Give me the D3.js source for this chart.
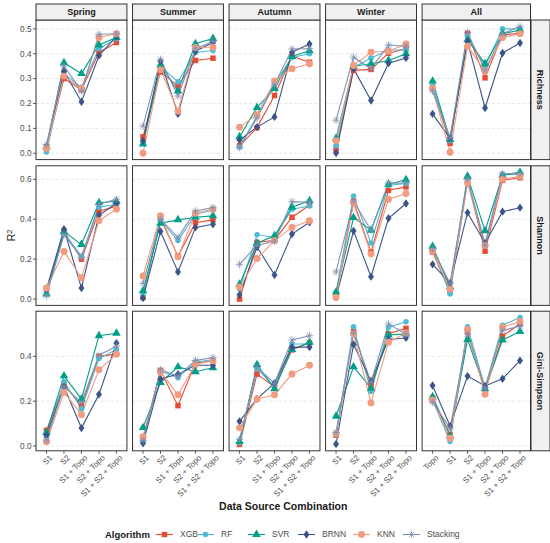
<!DOCTYPE html>
<html>
<head>
<meta charset="utf-8">
<script src="https://cdn.jsdelivr.net/npm/d3@7"></script>
<style>
  body { margin: 0; background: #fff; }
  svg { font-family: "Liberation Sans", Arial, sans-serif; }
</style>
</head>
<body>
<div id="chart"></div>
<script>
// facets
const seasons = ['Spring', 'Summer', 'Autumn', 'Winter', 'All'];
const indices = ['Richness', 'Shannon', 'Gini-Simpson'];
const algorithms = ['XGB', 'RF', 'SVR', 'BRNN', 'KNN', 'Stacking'];
const sources = ['S1', 'S2', 'S1 + Topo', 'S2 + Topo', 'S1 + S2 + Topo'];
const sourcesAll = ['Topo', 'S1', 'S2', 'S1 + Topo', 'S2 + Topo', 'S1 + S2 + Topo'];

const richTicks = [0, 0.1, 0.2, 0.3, 0.4, 0.5];
const shanTicks = [0, 0.2, 0.4, 0.6];
const giniTicks = [0, 0.2, 0.4];

// rows = algorithms in order XGB, RF, SVR, BRNN, KNN, Stacking
const richSpring = [
  [0.025, 0.300, 0.255, 0.405, 0.445],
  [0.005, 0.320, 0.265, 0.420, 0.460],
  [0.025, 0.364, 0.320, 0.435, 0.465],
  [0.025, 0.330, 0.207, 0.392, 0.470],
  [0.020, 0.310, 0.260, 0.465, 0.480],
  [0.035, 0.350, 0.250, 0.478, 0.480]
];
const richSummer = [
  [0.066, 0.327, 0.271, 0.373, 0.382],
  [0.040, 0.350, 0.287, 0.405, 0.413],
  [0.037, 0.355, 0.250, 0.440, 0.461],
  [0.050, 0.370, 0.158, 0.410, 0.445],
  [0.000, 0.336, 0.169, 0.425, 0.426],
  [0.109, 0.377, 0.230, 0.420, 0.450]
];
const richAutumn = [
  [0.030, 0.103, 0.232, 0.390, 0.366],
  [0.025, 0.150, 0.280, 0.385, 0.400],
  [0.066, 0.184, 0.260, 0.389, 0.412],
  [0.053, 0.105, 0.146, 0.406, 0.439],
  [0.105, 0.155, 0.290, 0.340, 0.360],
  [0.024, 0.142, 0.275, 0.419, 0.420]
];
const richWinter = [
  [0.014, 0.333, 0.337, 0.402, 0.420],
  [0.030, 0.345, 0.383, 0.415, 0.415],
  [0.060, 0.350, 0.360, 0.373, 0.400],
  [0.001, 0.340, 0.212, 0.362, 0.383],
  [0.050, 0.353, 0.406, 0.410, 0.439],
  [0.133, 0.386, 0.340, 0.435, 0.430]
];
const richAll = [
  [0.267, 0.040, 0.482, 0.303, 0.476, 0.482],
  [0.270, 0.050, 0.470, 0.350, 0.500, 0.500],
  [0.290, 0.055, 0.456, 0.360, 0.480, 0.495],
  [0.158, 0.060, 0.450, 0.182, 0.403, 0.443],
  [0.260, 0.004, 0.430, 0.330, 0.465, 0.480],
  [0.250, 0.063, 0.485, 0.335, 0.480, 0.510]
];

const shanSpring = [
  [0.045, 0.340, 0.200, 0.440, 0.465],
  [0.030, 0.330, 0.215, 0.460, 0.475],
  [0.025, 0.339, 0.273, 0.483, 0.490],
  [0.050, 0.350, 0.055, 0.420, 0.480],
  [0.055, 0.238, 0.107, 0.392, 0.450],
  [0.017, 0.322, 0.210, 0.475, 0.500]
];
const shanSummer = [
  [0.008, 0.405, 0.215, 0.383, 0.397],
  [0.020, 0.395, 0.293, 0.425, 0.445],
  [0.041, 0.380, 0.397, 0.410, 0.417],
  [0.005, 0.339, 0.136, 0.359, 0.375],
  [0.116, 0.417, 0.212, 0.430, 0.450],
  [0.078, 0.400, 0.309, 0.441, 0.458]
];
const shanAutumn = [
  [0.000, 0.284, 0.295, 0.410, 0.470],
  [0.050, 0.322, 0.310, 0.450, 0.466],
  [0.074, 0.280, 0.317, 0.460, 0.493],
  [0.021, 0.261, 0.121, 0.326, 0.385],
  [0.061, 0.203, 0.293, 0.359, 0.392],
  [0.174, 0.270, 0.290, 0.488, 0.485]
];
const shanWinter = [
  [0.020, 0.490, 0.235, 0.545, 0.562],
  [0.033, 0.516, 0.281, 0.570, 0.579],
  [0.035, 0.408, 0.345, 0.575, 0.598],
  [0.010, 0.342, 0.112, 0.405, 0.479],
  [0.008, 0.480, 0.226, 0.500, 0.529],
  [0.136, 0.490, 0.345, 0.582, 0.580]
];
const shanAll = [
  [0.235, 0.036, 0.595, 0.240, 0.595, 0.608],
  [0.250, 0.025, 0.600, 0.280, 0.625, 0.625],
  [0.264, 0.060, 0.615, 0.342, 0.620, 0.636],
  [0.174, 0.080, 0.433, 0.280, 0.438, 0.458],
  [0.240, 0.050, 0.582, 0.268, 0.600, 0.615],
  [0.250, 0.079, 0.600, 0.270, 0.628, 0.630]
];

const giniSpring = [
  [0.070, 0.275, 0.180, 0.400, 0.410],
  [0.040, 0.287, 0.166, 0.390, 0.430],
  [0.060, 0.313, 0.210, 0.492, 0.503],
  [0.048, 0.265, 0.080, 0.230, 0.459],
  [0.019, 0.240, 0.140, 0.340, 0.409],
  [0.026, 0.265, 0.195, 0.405, 0.445]
];
const giniSummer = [
  [0.035, 0.337, 0.180, 0.370, 0.380],
  [0.020, 0.335, 0.305, 0.375, 0.385],
  [0.082, 0.283, 0.353, 0.331, 0.349],
  [0.012, 0.299, 0.320, 0.360, 0.360],
  [0.042, 0.330, 0.229, 0.365, 0.380],
  [0.025, 0.340, 0.312, 0.382, 0.394]
];
const giniAutumn = [
  [0.007, 0.321, 0.265, 0.429, 0.460],
  [0.015, 0.345, 0.265, 0.455, 0.455],
  [0.020, 0.363, 0.255, 0.430, 0.463],
  [0.110, 0.210, 0.280, 0.441, 0.441],
  [0.081, 0.210, 0.229, 0.321, 0.360],
  [0.030, 0.350, 0.280, 0.473, 0.492]
];
const giniWinter = [
  [0.048, 0.510, 0.270, 0.500, 0.525],
  [0.050, 0.532, 0.243, 0.530, 0.554],
  [0.133, 0.353, 0.258, 0.495, 0.500],
  [0.009, 0.453, 0.290, 0.475, 0.482],
  [0.055, 0.500, 0.192, 0.463, 0.504],
  [0.060, 0.505, 0.285, 0.544, 0.500]
];
const giniAll = [
  [0.214, 0.050, 0.510, 0.245, 0.490, 0.545],
  [0.204, 0.020, 0.532, 0.260, 0.539, 0.573],
  [0.220, 0.045, 0.475, 0.255, 0.473, 0.511],
  [0.270, 0.089, 0.312, 0.268, 0.300, 0.381],
  [0.205, 0.035, 0.520, 0.231, 0.530, 0.555],
  [0.195, 0.080, 0.500, 0.260, 0.515, 0.535]
];

const panelData = [
  [richSpring, richSummer, richAutumn, richWinter, richAll],
  [shanSpring, shanSummer, shanAutumn, shanWinter, shanAll],
  [giniSpring, giniSummer, giniAutumn, giniWinter, giniAll]
];
const rowTicks = [richTicks, shanTicks, giniTicks];

// ggsci npg palette
const colors = ['#E64B35', '#4DBBD5', '#00A087', '#3C5488', '#F39B7F', '#8491B4'];

const width = 550, height = 543;
const svg = d3.select('#chart').append('svg')
  .attr('width', width)
  .attr('height', height);

// layout
const left = 36, right = 530.5, gap = 5.6;
const stripTop = 4, stripH = 16;
const rowTop = [20, 165.8, 311.2], rowH = 139.6;
const unitsPerCol = seasons.map((s, i) => (i === 4 ? sourcesAll.length : sources.length) - 1 + 1.2);
const unitW = (right - left - gap * 4) / d3.sum(unitsPerCol);
const colX = [];
{
  let x = left;
  unitsPerCol.forEach(u => { colX.push([x, x + u * unitW]); x += u * unitW + gap; });
}

const symbolFor = {
  XGB: d3.symbol().type(d3.symbolSquare).size(30),
  RF: d3.symbol().type(d3.symbolCircle).size(24),
  SVR: d3.symbol().type(d3.symbolTriangle).size(32),
  BRNN: d3.symbol().type(d3.symbolDiamond).size(20),
  KNN: d3.symbol().type(d3.symbolCircle).size(38)
};

function drawPoint(g, algo, i, x, y) {
  if (algo === 'Stacking') {
    const r = 3.8;
    const s = g.append('g').attr('transform', `translate(${x},${y})`)
      .style('stroke', colors[i]).style('stroke-width', 0.8);
    [0, 45, 90, 135].forEach(a => {
      const t = a * Math.PI / 180;
      s.append('line')
        .attr('x1', -r * Math.cos(t)).attr('y1', -r * Math.sin(t))
        .attr('x2', r * Math.cos(t)).attr('y2', r * Math.sin(t));
    });
  } else {
    g.append('path')
      .attr('d', symbolFor[algo]())
      .attr('transform', `translate(${x},${y})` + (algo === 'BRNN' ? ' scale(1.25,1)' : ''))
      .style('fill', colors[i]);
  }
}

const fmt = d3.format('.1f');

indices.forEach((idx, r) => {
  const top = rowTop[r], bottom = top + rowH;
  const all = panelData[r].flat(2);
  const ext = d3.extent(all);
  const pad = (ext[1] - ext[0]) * 0.05;
  const y = d3.scaleLinear().domain([ext[0] - pad, ext[1] + pad]).range([bottom, top]);

  // y axis labels on first column
  const yAxis = svg.append('g');
  rowTicks[r].forEach(t => {
    yAxis.append('line')
      .attr('x1', left - 3).attr('x2', left)
      .attr('y1', y(t)).attr('y2', y(t))
      .style('stroke', '#333').style('stroke-width', 0.8);
    yAxis.append('text')
      .attr('x', left - 4.5).attr('y', y(t)).attr('dy', '0.35em')
      .attr('text-anchor', 'end')
      .style('font-size', '8.2px').style('fill', '#4d4d4d')
      .text(fmt(t));
  });

  seasons.forEach((season, c) => {
    const cats = c === 4 ? sourcesAll : sources;
    const x = d3.scalePoint().domain(cats).range(colX[c]).padding(0.6);
    const g = svg.append('g');

    g.append('rect')
      .attr('x', colX[c][0]).attr('y', top)
      .attr('width', colX[c][1] - colX[c][0]).attr('height', rowH)
      .style('fill', '#fff');

    rowTicks[r].forEach(t => {
      g.append('line')
        .attr('x1', colX[c][0]).attr('x2', colX[c][1])
        .attr('y1', y(t)).attr('y2', y(t))
        .style('stroke', '#d9d9d9').style('stroke-width', 0.6)
        .style('stroke-dasharray', '3,2');
    });

    const line = d3.line().x((d, j) => x(cats[j])).y(d => y(d));
    const rows = panelData[r][c];
    algorithms.forEach((algo, a) => {
      g.append('path')
        .attr('d', line(rows[a]))
        .style('fill', 'none')
        .style('stroke', colors[a])
        .style('stroke-width', 1.1);
    });
    algorithms.forEach((algo, a) => {
      rows[a].forEach((v, j) => drawPoint(g, algo, a, x(cats[j]), y(v)));
    });

    g.append('rect')
      .attr('x', colX[c][0]).attr('y', top)
      .attr('width', colX[c][1] - colX[c][0]).attr('height', rowH)
      .style('fill', 'none').style('stroke', '#333').style('stroke-width', 1);

    // column strips
    if (r === 0) {
      svg.append('rect')
        .attr('x', colX[c][0]).attr('y', stripTop)
        .attr('width', colX[c][1] - colX[c][0]).attr('height', stripH)
        .style('fill', '#f0f0f0').style('stroke', '#333').style('stroke-width', 1);
      svg.append('text')
        .attr('x', (colX[c][0] + colX[c][1]) / 2).attr('y', stripTop + stripH / 2)
        .attr('dy', '0.35em').attr('text-anchor', 'middle')
        .style('font-size', '9px').style('font-weight', 'bold').style('fill', '#1a1a1a')
        .text(season);
    }

    // x axis on bottom row
    if (r === 2) {
      cats.forEach(cat => {
        svg.append('line')
          .attr('x1', x(cat)).attr('x2', x(cat))
          .attr('y1', bottom).attr('y2', bottom + 3)
          .style('stroke', '#333').style('stroke-width', 0.8);
        svg.append('text')
          .attr('transform', `translate(${x(cat) + 2.5},${bottom + 3.5}) rotate(-45)`)
          .attr('text-anchor', 'end').attr('dy', '0.7em')
          .style('font-size', '8px').style('fill', '#4d4d4d')
          .text(cat);
      });
    }
  });

  // row strip
  svg.append('rect')
    .attr('x', right + 0.5).attr('y', top)
    .attr('width', 19).attr('height', rowH)
    .style('fill', '#f0f0f0').style('stroke', '#333').style('stroke-width', 1);
  svg.append('text')
    .attr('transform', `translate(${right + 10},${top + rowH / 2}) rotate(90)`)
    .attr('dy', '0.35em').attr('text-anchor', 'middle')
    .style('font-size', '9px').style('font-weight', 'bold').style('fill', '#1a1a1a')
    .text(idx);
});

// axis titles
const yTitle = svg.append('text')
  .attr('transform', `translate(15,${(rowTop[0] + rowTop[2] + rowH) / 2}) rotate(-90)`)
  .attr('text-anchor', 'middle')
  .style('font-size', '10.5px').style('fill', '#1a1a1a');
yTitle.append('tspan').text('R');
yTitle.append('tspan').attr('dy', '-0.45em').style('font-size', '7.5px').text('2');

svg.append('text')
  .attr('x', (left + right) / 2).attr('y', 510)
  .attr('text-anchor', 'middle')
  .style('font-size', '10.5px').style('font-weight', 'bold').style('fill', '#1a1a1a')
  .text('Data Source Combination');

// legend
const legend = svg.append('g').attr('transform', 'translate(0,534.5)');
legend.append('text')
  .attr('x', 105).attr('dy', '0.35em')
  .style('font-size', '9.5px').style('font-weight', 'bold').style('fill', '#1a1a1a')
  .text('Algorithm');
const keyX = [156, 197, 248, 298, 353, 403];
algorithms.forEach((algo, a) => {
  const k = legend.append('g');
  k.append('line')
    .attr('x1', keyX[a]).attr('x2', keyX[a] + 17)
    .style('stroke', colors[a]).style('stroke-width', 1.1);
  drawPoint(k, algo, a, keyX[a] + 8.5, 0);
  legend.append('text')
    .attr('x', keyX[a] + 24).attr('dy', '0.35em')
    .style('font-size', '8.5px').style('fill', '#4d4d4d')
    .text(algo);
});
</script>
</body>
</html>
